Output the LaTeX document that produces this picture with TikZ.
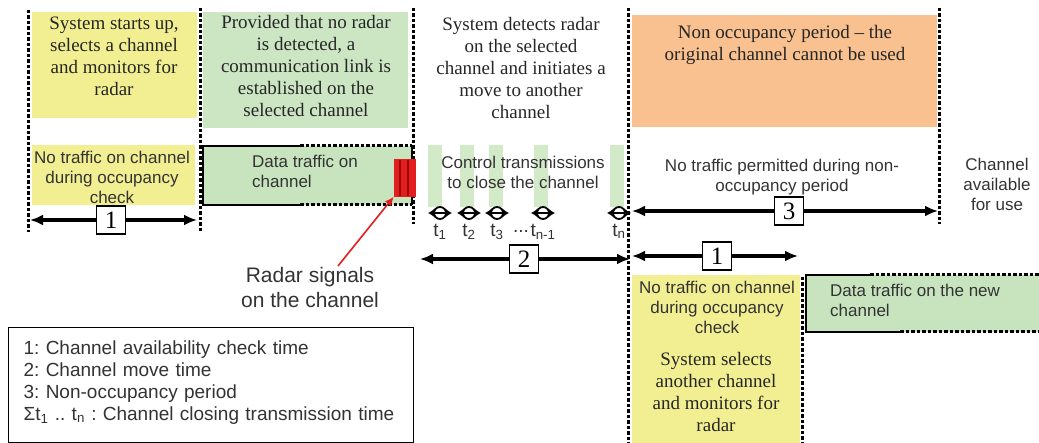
\documentclass[tikz,border=0pt]{standalone}
\usepackage{fontspec}
\setmainfont{Liberation Serif}
\setsansfont{Liberation Sans}
\usetikzlibrary{arrows.meta}
\frenchspacing

\definecolor{yellowbox}{RGB}{242,239,146}
\definecolor{greenbox}{RGB}{204,230,195}
\definecolor{datagreen}{RGB}{200,228,190}
\definecolor{ctrlgreen}{RGB}{210,234,200}
\definecolor{orangebox}{RGB}{249,193,143}
\definecolor{radarred}{RGB}{228,30,30}
\definecolor{darkred}{RGB}{150,10,10}

\tikzset{
  boundary/.style={line width=3pt, dash pattern=on 3.5pt off 2pt},
  solidedge/.style={line width=2.8pt},
  span/.style={line width=3.2pt, -{Latex[length=13pt,width=11pt]}},
  spanlabel/.style={draw, line width=1.2pt, fill=white, minimum width=29pt,
    minimum height=28pt, inner sep=0pt, font=\fontsize{25}{25}\selectfont},
  serifnote/.style={align=center, inner sep=0pt, text=black!85,
    font=\fontsize{19}{22}\selectfont},
  sansnote/.style={align=center, inner sep=0pt, text=black!80,
    font=\sffamily\fontsize{17}{20}\selectfont},
  tmark/.style={circle, draw, line width=1.8pt, fill=white, minimum size=12pt,
    inner sep=0pt, path picture={\draw[line width=1.4pt]
      (path picture bounding box.west) -- (path picture bounding box.east);}},
  tmarktips/.style={line width=2pt, {Latex[length=7pt,width=10pt]}-{Latex[length=7pt,width=10pt]}},
  tlabel/.style={inner sep=0pt, label distance=4pt, text=black!80,
    font=\sffamily\fontsize{19}{20}\selectfont},
}

\begin{document}
\begin{tikzpicture}[x=1pt, y=-1pt]
  \useasboundingbox (0,0) rectangle (1039,443);

  % coloured areas
  \fill[yellowbox] (32,12) rectangle (197,118);
  \fill[yellowbox] (32,145) rectangle (195,205);
  \fill[greenbox] (203,12) rectangle (408,128);
  \fill[orangebox] (632,15) rectangle (937,127);
  \fill[yellowbox] (632,275) rectangle (800,443);
  \fill[datagreen] (203,146) rectangle (412,205);
  \fill[datagreen] (806,275) rectangle (1039,332);

  % control transmissions
  \fill[ctrlgreen] (428,145) rectangle (442,207);
  \fill[ctrlgreen] (460,145) rectangle (474,207);
  \fill[ctrlgreen] (489,145) rectangle (503,207);
  \fill[ctrlgreen] (534,145) rectangle (548,207);
  \fill[ctrlgreen] (610,145) rectangle (624,207);

  % boundaries
  \coordinate (b0t) at (28,10);  \coordinate (b0b) at (28,232);
  \coordinate (b1t) at (200,8);  \coordinate (b1b) at (200,232);
  \coordinate (b2t) at (413,8);  \coordinate (b2b) at (413,224);
  \coordinate (b3t) at (628,8);  \coordinate (b3b) at (628,443);
  \coordinate (b4t) at (939,8);  \coordinate (b4b) at (939,224);
  \coordinate (b5t) at (802,277); \coordinate (b5b) at (802,443);
  \draw[boundary] (b0t) -- (b0b);
  \draw[boundary] (b1t) -- (b1b);
  \draw[boundary] (b2t) -- (b2b);
  \draw[boundary] (b3t) -- (b3b);
  \draw[boundary] (b4t) -- (b4b);
  \draw[boundary] (b5t) -- (b5b);

  % data traffic boxes
  \draw[solidedge] (300,146) -- (203,146) -- (203,205) -- (300,205);
  \draw[boundary] (300,146) -- (412,146);
  \draw[boundary] (300,205) -- (412,205);
  \draw[solidedge] (412,146) -- (412,205);
  \draw[solidedge] (870,275) -- (806,275) -- (806,332) -- (900,332);
  \draw[boundary] (870,275) -- (1039,275);
  \draw[boundary] (900,332) -- (1039,332);

  % radar signals
  \node[minimum width=22pt, minimum height=37pt, inner sep=0pt] (sig) at (405,178) {};
  \fill[radarred] (sig.south west) rectangle (sig.north east);
  \draw[darkred, line width=1.2pt] (400,160) -- (400,196);
  \draw[darkred, line width=1.2pt] (408,160) -- (408,196);

  % texts
  \node[serifnote] (startup) at (114,56) {System starts up,\\selects a channel\\and monitors for\\radar};
  \node[sansnote] (idle1) at (112,177) {No traffic on channel\\during occupancy\\check};
  \node[serifnote] (linkup) at (306,66) {Provided that no radar\\is detected, a\\communication link is\\established on the\\selected channel};
  \node[sansnote, align=left, anchor=west] (data1) at (252,171) {Data traffic on\\channel};
  \node[serifnote] (detect) at (521,68) {System detects radar\\on the selected\\channel and initiates a\\move to another\\channel};
  \node[sansnote] (ctrl) at (523,172) {Control transmissions\\to close the channel};
  \node[serifnote] (nonocc) at (785,45) {Non occupancy period – the\\original channel cannot be used};
  \node[sansnote] (notraffic) at (782,177) {No traffic permitted during non-\\occupancy period};
  \node[sansnote] (avail) at (997,184) {Channel\\available\\for use};
  \node[sansnote] (idle2) at (717,307) {No traffic on channel\\during occupancy\\check};
  \node[serifnote] (reselect) at (716,392) {System selects\\another channel\\and monitors for\\radar};
  \node[sansnote, align=left, anchor=west] (data2) at (830,300) {Data traffic on the new\\channel};
  \node[sansnote, font=\sffamily\fontsize{21}{25}\selectfont] (radarlbl) at (310,287) {Radar signals\\on the channel};

  \coordinate (radtail) at (338,266);
  \draw[radarred, line width=1.6pt, -{Latex[length=9pt,width=8pt]}] (radtail) -- (sig.south west);

  % closing transmissions t1 .. tn
  \draw[tmarktips] (428,213) -- (452,213);
  \draw[tmarktips] (457,213) -- (481,213);
  \draw[tmarktips] (485,213) -- (509,213);
  \draw[tmarktips] (531,213) -- (555,213);
  \draw[tmarktips] (607,213) -- (631,213);
  \node[tmark, label={[tlabel]below:t\textsubscript{1}}] (t1) at (440,213) {};
  \node[tmark, label={[tlabel]below:t\textsubscript{2}}] (t2) at (469,213) {};
  \node[tmark, label={[tlabel]below:t\textsubscript{3}}] (t3) at (497,213) {};
  \node[tmark, label={[tlabel]below:t\textsubscript{n-1}}] (tn1) at (543,213) {};
  \node[tmark, label={[tlabel]below:t\textsubscript{n}}] (tn) at (619,213) {};
  \node[tlabel] (dots) at (521,231) {...};

  % time spans
  \coordinate (s1l) at (30,220);  \coordinate (s1r) at (197,220);
  \coordinate (s2l) at (420,259); \coordinate (s2r) at (630,259);
  \coordinate (s3l) at (632,211); \coordinate (s3r) at (938,211);
  \coordinate (s4l) at (632,256); \coordinate (s4r) at (798,256);
  \node[spanlabel] (span1) at (111,220) {1};
  \node[spanlabel] (span2) at (524,259) {2};
  \node[spanlabel] (span3) at (789,211) {3};
  \node[spanlabel] (span4) at (717,256) {1};
  \draw[span] (span1) -- (s1l);
  \draw[span] (span1) -- (s1r);
  \draw[span] (span2) -- (s2l);
  \draw[span] (span2) -- (s2r);
  \draw[span] (span3) -- (s3l);
  \draw[span] (span3) -- (s3r);
  \draw[span] (span4) -- (s4l);
  \draw[span] (span4) -- (s4r);

  % legend
  \node[draw, line width=1.2pt, anchor=north west, minimum width=405pt,
    minimum height=115pt, text width=385pt, align=left, inner xsep=10pt,
    text=black!80, font=\sffamily\fontsize{19}{22}\selectfont] (key) at (8,327)
    {\hspace*{5pt}1: Channel availability check time\\
     \hspace*{5pt}2: Channel move time\\
     \hspace*{5pt}3: Non-occupancy period\\
     \hspace*{5pt}Σt\textsubscript{1} .. t\textsubscript{n} : Channel closing transmission time\par\vspace{6pt}};
\end{tikzpicture}
\end{document}
